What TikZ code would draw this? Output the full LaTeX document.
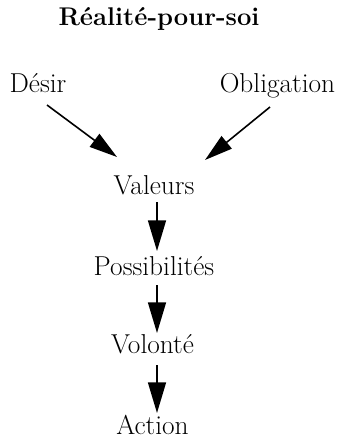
\documentclass[tikz,border=0pt]{standalone}
\usetikzlibrary{arrows.meta,calc}
\begin{document}
\begin{tikzpicture}[x=0.75pt,y=-0.75pt,
  lbl/.style={anchor=base,inner sep=0pt,font=\fontsize{20.5}{24}\selectfont},
  ttl/.style={anchor=base,inner sep=0pt,font=\fontsize{19.2}{23}\selectfont\bfseries},
  diag/.style={line width=1.2pt,-{Triangle[length=21pt,width=12pt]}},
  vert/.style={line width=1.2pt,-{Triangle[length=23pt,width=13.5pt]}}]
\useasboundingbox (0,0) rectangle (337,440);
\node[ttl] (title) at (159,25) {Réalité-pour-soi};
\node[lbl] (desir) at (38,92) {Désir};
\node[lbl] (oblig) at (277.5,92) {Obligation};
\node[lbl] (val) at (154,194) {Valeurs};
\node[lbl] (poss) at (154,275) {Possibilités};
\node[lbl] (vol) at (152.5,353) {Volonté};
\node[lbl] (act) at (152.5,434) {Action};
\draw[diag] ($(desir.base)+(9,13)$) -- ($(val.base)+(-37,-37)$);
\draw[diag] ($(oblig.base)+(-7.5,15)$) -- ($(val.base)+(51,-34)$);
\draw[vert] ($(val.base)+(3,8)$) -- ($(poss.base)+(3,-24)$);
\draw[vert] ($(poss.base)+(3,10)$) -- ($(vol.base)+(4.5,-20)$);
\draw[vert] ($(vol.base)+(4.5,12)$) -- ($(act.base)+(4.5,-21)$);
\end{tikzpicture}
\end{document}
